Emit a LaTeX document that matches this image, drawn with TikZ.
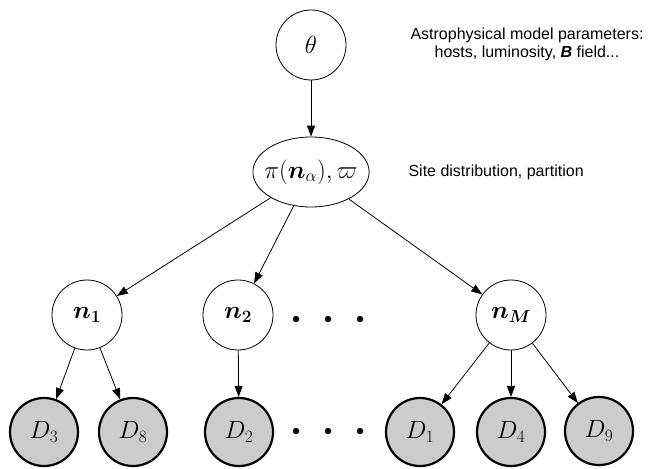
\documentclass[tikz,border=0pt]{standalone}
\usepackage{amsmath,amssymb}
\usepackage{fontspec}
\newfontfamily\labfont{Liberation Sans}
\usetikzlibrary{arrows.meta,shapes.geometric}
\tikzset{
  latent/.style={circle,draw,line width=0.8pt,minimum size=70pt,inner sep=0pt,font=\fontsize{23}{26}\selectfont},
  observed/.style={circle,draw,line width=2.2pt,fill=black!20,minimum size=68pt,inner sep=0pt,font=\fontsize{23}{26}\selectfont},
  bigell/.style={ellipse,draw,line width=0.8pt,minimum width=112pt,minimum height=70pt,inner xsep=-5.5pt,inner ysep=0pt,font=\fontsize{23}{26}\selectfont},
  edge/.style={line width=0.8pt,-{Triangle[length=11pt,width=8pt]}},
  dotnode/.style={circle,fill=black,inner sep=0pt,minimum size=6.5pt},
  note/.style={font=\labfont\fontsize{16}{18}\selectfont,align=center}
}
\begin{document}
\begin{tikzpicture}[x=1pt,y=-1pt]
\useasboundingbox (0,0) rectangle (652,468);
\node[latent] (theta) at (311,45) {$\theta$};
\node[bigell] (pi) at (311,172) {$\pi(\boldsymbol{n}_\alpha),\varpi$};
\node[latent] (n1) at (87,315) {$\boldsymbol{n_1}$};
\node[latent] (n2) at (238,315) {$\boldsymbol{n_2}$};
\node[latent] (nM) at (511,315) {$\boldsymbol{n_M}$};
\node[observed] (D3) at (44,432) {$D_3$};
\node[observed] (D8) at (133,432) {$D_8$};
\node[observed] (D2) at (239,432) {$D_2$};
\node[observed] (D1) at (420,432) {$D_1$};
\node[observed] (D4) at (511,432) {$D_4$};
\node[observed] (D9) at (599,431) {$D_9$};
\node[dotnode] (a1) at (296,319) {};
\node[dotnode] (a2) at (328,319) {};
\node[dotnode] (a3) at (360,319) {};
\node[dotnode] (b1) at (296,431) {};
\node[dotnode] (b2) at (328,431) {};
\node[dotnode] (b3) at (360,431) {};
\node[note] (t1) at (527,44) {Astrophysical model parameters:\\hosts, luminosity, {\bfseries\itshape B} field...};
\node[note,anchor=west] (t2) at (405,172) {Site distribution, partition};
\draw[edge] (theta) -- (pi);
\draw[edge] (pi) -- (n1);
\draw[edge] (pi) -- (n2);
\draw[edge] (pi) -- (nM);
\draw[edge] (n1) -- (D3);
\draw[edge] (n1) -- (D8);
\draw[edge] (n2) -- (D2);
\draw[edge] (nM) -- (D1);
\draw[edge] (nM) -- (D4);
\draw[edge] (nM) -- (D9);
\end{tikzpicture}
\end{document}
